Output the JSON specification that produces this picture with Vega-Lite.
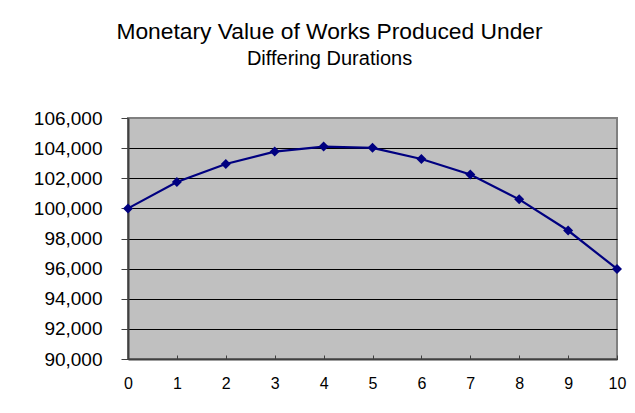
{
  "$schema": "https://vega.github.io/schema/vega-lite/v6.json",
  "autosize": "none",
  "width": 489,
  "height": 241,
  "padding": {"left": 128, "top": 118, "right": 18, "bottom": 54},
  "background": "white",
  "title": {
    "text": "Monetary Value of Works Produced Under",
    "subtitle": "Differing Durations",
    "anchor": "middle",
    "frame": "group",
    "dx": -43,
    "font": "Liberation Sans",
    "fontSize": 22.8,
    "fontWeight": "normal",
    "color": "black",
    "subtitleFont": "Liberation Sans",
    "subtitleFontSize": 20,
    "subtitleColor": "black",
    "subtitlePadding": 5,
    "offset": 40
  },
  "data": {
    "values": [
      {"t": 0, "v": 100000},
      {"t": 1, "v": 101750},
      {"t": 2, "v": 102950},
      {"t": 3, "v": 103770},
      {"t": 4, "v": 104100},
      {"t": 5, "v": 104020},
      {"t": 6, "v": 103280},
      {"t": 7, "v": 102250},
      {"t": 8, "v": 100600},
      {"t": 9, "v": 98530},
      {"t": 10, "v": 95980}
    ]
  },
  "mark": {
    "type": "line",
    "color": "#000080",
    "strokeWidth": 2.2,
    "point": {"shape": "diamond", "size": 100, "filled": true, "color": "#000080", "opacity": 1}
  },
  "encoding": {
    "x": {
      "field": "t",
      "type": "quantitative",
      "scale": {"domain": [0, 10], "nice": false, "zero": false},
      "axis": {
        "title": null,
        "values": [0, 1, 2, 3, 4, 5, 6, 7, 8, 9, 10],
        "format": "d",
        "grid": false,
        "domainColor": "#404040",
        "domainWidth": 2,
        "tickColor": "#404040",
        "tickSize": -4,
        "tickWidth": 1,
        "labelFont": "Liberation Sans",
        "labelFontSize": 16,
        "labelColor": "black",
        "labelPadding": 20,
        "labelFlush": false,
        "labelOverlap": false
      }
    },
    "y": {
      "field": "v",
      "type": "quantitative",
      "scale": {"domain": [90000, 106000], "nice": false, "zero": false},
      "axis": {
        "title": null,
        "values": [90000, 92000, 94000, 96000, 98000, 100000, 102000, 104000, 106000],
        "format": ",.0f",
        "grid": true,
        "gridColor": {"condition": {"test": "datum.value == 106000", "value": "#808080"}, "value": "black"},
        "gridWidth": 1,
        "domainColor": "#404040",
        "domainWidth": 2,
        "tickColor": "#404040",
        "tickSize": 7,
        "tickWidth": 1,
        "labelFont": "Liberation Sans",
        "labelFontSize": 19,
        "labelColor": "black",
        "labelPadding": 19,
        "labelFlush": false,
        "labelOverlap": false
      }
    }
  },
  "config": {
    "view": {"fill": "#C0C0C0", "stroke": "#808080", "strokeWidth": 2}
  }
}
